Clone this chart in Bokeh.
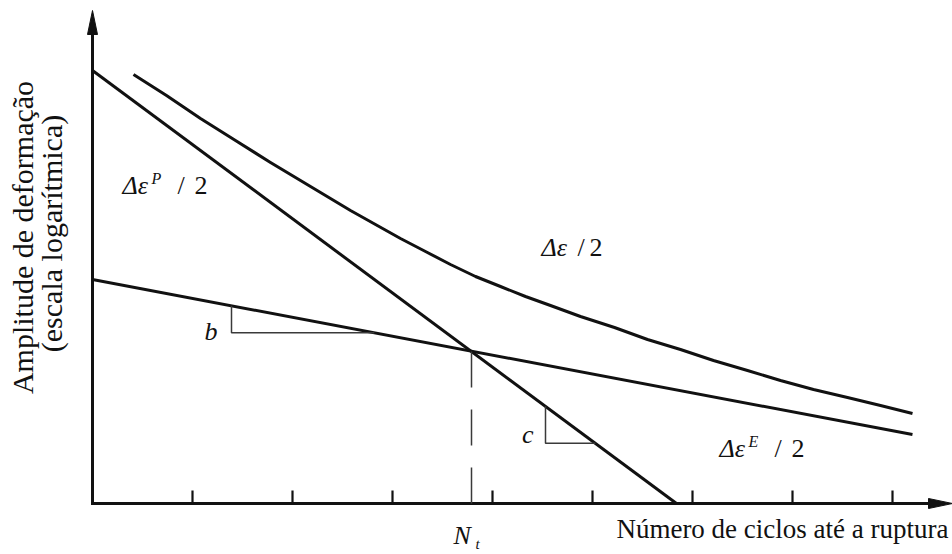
import numpy as np
from bokeh.plotting import figure
from bokeh.models import Range1d
from bokeh.core.properties import value
from bokeh.embed import file_html
from bokeh.resources import INLINE

# Schematic strain-life (Coffin-Manson / Basquin) diagram.
# x: log of cycles to failure, y: log of strain amplitude (arbitrary units)
decade_ticks = [1, 2, 3, 4, 5, 6, 7, 8]

elastic_x = [0.0, 8.2]
elastic_y = [2.24, 0.69]

plastic_x = [0.0, 5.84]
plastic_y = [4.33, 0.0]

total_x = [0.41, 0.74, 1.08, 1.43, 1.78, 2.18, 2.58, 2.83, 3.08, 3.33, 3.58, 3.83,
           4.08, 4.33, 4.58, 4.88, 5.22, 5.55, 5.88, 6.21, 6.55, 6.88, 7.21, 7.55,
           7.88, 8.20]
total_y = [4.29, 4.08, 3.85, 3.63, 3.41, 3.17, 2.93, 2.79, 2.65, 2.52, 2.39, 2.27,
           2.17, 2.07, 1.98, 1.87, 1.76, 1.64, 1.54, 1.43, 1.33, 1.23, 1.14, 1.06,
           0.98, 0.90]

transition_x = 3.79

# slope markers (foot x position, drop) on the elastic (b) and plastic (c) lines
slope_b = (1.39, 0.27)
slope_c = (4.53, 0.37)

W, H = 952, 554
X_RANGE = (-0.92, 8.60)
Y_RANGE = (-0.51, 5.03)
PX = (X_RANGE[1] - X_RANGE[0]) / W  # data units per pixel (same on both axes)

INK = "#111111"
THIN = "#3a3a3a"
SERIF = value("Liberation Serif")

p = figure(width=W, height=H, x_range=Range1d(*X_RANGE), y_range=Range1d(*Y_RANGE),
           output_backend="svg", toolbar_location=None,
           x_axis_type=None, y_axis_type=None, min_border=0)
p.outline_line_color = None
p.background_fill_color = "white"
p.border_fill_color = "white"

# axes with arrow heads
x_end = X_RANGE[1]
y_end = 4.93
head_len, head_half = 24 * PX, 5 * PX
p.line([-1.5 * PX, x_end - head_len + 2 * PX], [0, 0], line_color=INK, line_width=3)
p.line([0, 0], [0, y_end - head_len + 2 * PX], line_color=INK, line_width=3)
p.patches(xs=[[x_end, x_end - head_len, x_end - head_len],
              [0, -head_half, head_half]],
          ys=[[0, head_half, -head_half],
              [y_end, y_end - head_len, y_end - head_len]],
          fill_color=INK, line_color=INK, line_width=1)

# decade ticks pointing into the plot
tick_h = 13 * PX
p.segment(x0=decade_ticks, y0=[0] * len(decade_ticks), x1=decade_ticks,
          y1=[tick_h] * len(decade_ticks), line_color=INK, line_width=2.2)

# elastic, plastic and total strain
p.line(elastic_x, elastic_y, line_color=INK, line_width=3)
p.line(plastic_x, plastic_y, line_color=INK, line_width=3)
p.line(total_x, total_y, line_color=INK, line_width=3, line_join="round")

# transition life
transition_y = float(np.interp(transition_x, elastic_x, elastic_y))
p.line([transition_x, transition_x], [0, transition_y], line_color=THIN,
       line_width=1.5, line_dash="36 22")


# slope triangles
def slope_triangle(xs, ys, foot_x, drop):
    top = float(np.interp(foot_x, xs, ys))
    low = top - drop
    k = (ys[1] - ys[0]) / (xs[1] - xs[0])
    end_x = xs[0] + (low - ys[0]) / k
    p.line([foot_x, foot_x, end_x], [top, low, low], line_color=THIN, line_width=1.5)
    return low


b_low = slope_triangle(elastic_x, elastic_y, *slope_b)
c_low = slope_triangle(plastic_x, plastic_y, *slope_c)

# the alphabetic baseline lands a bit low in the svg output; lift it back
BASE_SHIFT = 0.32


def text(x, y, s, size, style="normal", align="left", angle=0.0):
    lift = BASE_SHIFT * size * PX
    if angle:
        x, y = x - lift, y
    else:
        y = y + lift
    p.text(x=[x], y=[y], text=[s], text_font=SERIF, text_font_size=f"{size}px",
           text_font_style=style, text_align=align, text_baseline="alphabetic",
           angle=angle, text_color=INK)


def strain_label(x0, y0, sup):
    text(x0, y0, "Δε", 26, "italic")
    if sup:
        text(x0 + 29 * PX, y0 + 10 * PX, sup, 16, "italic")
        text(x0 + 55 * PX, y0, "/", 26)
        text(x0 + 72 * PX, y0, "2", 26)
    else:
        text(x0 + 36 * PX, y0, "/", 26)
        text(x0 + 48 * PX, y0, "2", 26)


strain_label(0.30, 3.10, "P")
strain_label(4.49, 2.48, None)
strain_label(6.27, 0.47, "E")

text(slope_b[0] - 14 * PX, b_low - 7 * PX, "b", 26, "italic", align="right")
text(slope_c[0] - 12 * PX, c_low + 1 * PX, "c", 26, "italic", align="right")

# transition life label N_t
text(transition_x - 18 * PX, -0.40, "N", 26, "italic")
text(transition_x + 4 * PX, -0.45, "t", 15, "italic")

# axis titles
text(8.56, -0.34, "Número de ciclos até a ruptura", 27, align="right")
text(-0.60, 2.66, "Amplitude de deformação", 30, align="center", angle=np.pi / 2)
text(-0.31, 2.70, "(escala logarítmica)", 30, align="center", angle=np.pi / 2)

open("out.html", "w").write(file_html(p, INLINE))
